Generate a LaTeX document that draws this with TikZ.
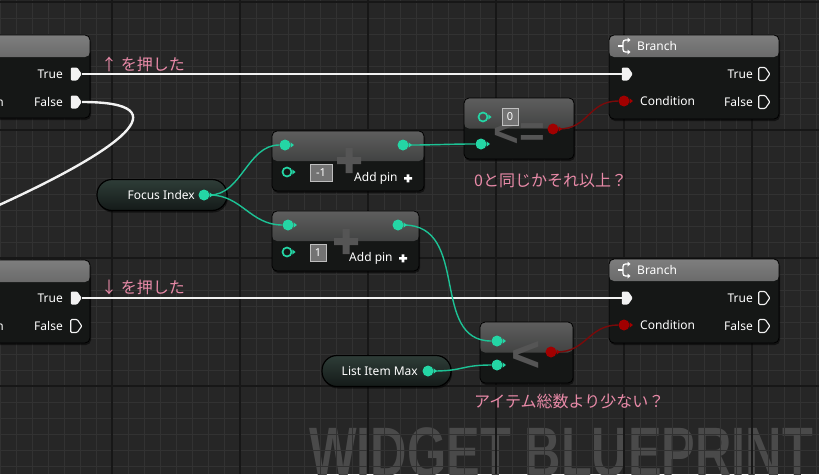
\documentclass[tikz,border=0pt]{standalone}
\usepackage{fontspec}
\setmainfont{Noto Sans}
\newfontfamily\jpfont{Noto Sans CJK JP}
\newfontfamily\wmfont{Liberation Sans}
\usepackage{tikz}
\usetikzlibrary{shapes.symbols, shadows, calc}
\definecolor{gridBg}{HTML}{262626}
\definecolor{gridMinor}{HTML}{323232}
\definecolor{gridMajor}{HTML}{171717}
\definecolor{nodeBody}{HTML}{151716}
\definecolor{pureTop}{HTML}{5E5E5E}
\definecolor{pureMid}{HTML}{252726}
\definecolor{flowTop}{HTML}{7E7E7E}
\definecolor{flowBot}{HTML}{333434}
\definecolor{pinTeal}{HTML}{24D6A5}
\definecolor{wireTeal}{HTML}{1DC295}
\definecolor{pinRed}{HTML}{A10000}
\definecolor{wireRed}{HTML}{7A0A0A}
\definecolor{execWhite}{HTML}{F2F2F2}
\definecolor{noteText}{HTML}{E98AA8}
\definecolor{symGray}{HTML}{555555}
\definecolor{markGray}{HTML}{4A4A4A}
\definecolor{pillTop}{HTML}{2E3D38}
\definecolor{pillMid}{HTML}{3F8A72}
\definecolor{pillBot}{HTML}{141A18}

\begin{document}
\begin{tikzpicture}[
  x=1pt, y=-1pt,
  every node/.style={font=\fontsize{12}{14}\selectfont, text=white, inner sep=0pt},
  bpnode/.style={
    rectangle, rounded corners=5pt, fill=nodeBody, draw=black, line width=0.8pt,
    drop shadow={shadow xshift=1pt, shadow yshift=-2pt, opacity=0.5, fill=black}
  },
  purehead/.style={path picture={\shade[top color=pureTop, bottom color=pureMid]
    (path picture bounding box.north west) rectangle (path picture bounding box.east);}},
  flowhead/.style={path picture={\shade[top color=flowTop, bottom color=flowBot]
    (path picture bounding box.north west) rectangle ([yshift=-22pt]path picture bounding box.north east);}},
  varpill/.style={
    rectangle, rounded corners=15pt, minimum height=31pt, draw=black, line width=1.2pt,
    top color=pillTop, middle color=pillMid, bottom color=pillBot,
    drop shadow={shadow xshift=1pt, shadow yshift=-2pt, opacity=0.5, fill=black}
  },
  execpin/.style={signal, signal to=east, signal pointer angle=110, fill=execWhite,
    minimum width=11pt, minimum height=13pt, inner sep=0pt, rounded corners=1pt},
  execopen/.style={execpin, fill=none, draw=execWhite, line width=1.1pt},
  datapin/.style={circle, fill=pinTeal, minimum size=11pt},
  dataopen/.style={circle, draw=pinTeal, line width=1.7pt, minimum size=9pt},
  boolpin/.style={circle, fill=pinRed, minimum size=11pt},
  execwire/.style={draw=execWhite, line width=2.4pt},
  datawire/.style={draw=wireTeal, line width=1.4pt},
  boolwire/.style={draw=wireRed, line width=1.4pt},
  valbox/.style={draw=white!75!black, line width=0.7pt, fill=black!55,
    minimum height=17pt, minimum width=16pt, font=\fontsize{11}{12}\selectfont},
  opsym/.style={text=symGray, font=\wmfont\bfseries\fontsize{44}{44}\selectfont},
  note/.style={anchor=west, text=noteText, font=\jpfont\fontsize{16}{18}\selectfont}
]
\useasboundingbox (0,0) rectangle (819,474);
\clip (0,0) rectangle (819,474);

% background and watermark
\fill[gridBg] (0,0) rectangle (819,474);
\node[anchor=base west, text=markGray] (mark) at (309,476)
  {\scalebox{0.72}[1]{\wmfont\bfseries\fontsize{70}{70}\selectfont WIDGET BLUEPRINT}};

% grid
\foreach \x in {0,16,...,816} \draw[gridMinor, line width=1pt] (\x,0) -- (\x,474);
\foreach \y in {2,18,...,474} \draw[gridMinor, line width=1pt] (0,\y) -- (819,\y);
\foreach \x in {112,240,...,752} \draw[gridMajor, line width=1.3pt] (\x,0) -- (\x,474);
\foreach \y in {2,130,...,386} \draw[gridMajor, line width=1.3pt] (0,\y) -- (819,\y);

% node bodies
\node[bpnode, flowhead, minimum width=120pt, minimum height=83pt] (keyUp) at (30,76.5) {};
\node[bpnode, flowhead, minimum width=120pt, minimum height=83pt] (keyDown) at (30,301.5) {};
\node[bpnode, flowhead, minimum width=170pt, minimum height=84pt] (branchA) at (694,77) {};
\node[bpnode, flowhead, minimum width=170pt, minimum height=84pt] (branchB) at (694,301) {};
\node[bpnode, purehead, minimum width=152pt, minimum height=60pt] (addA) at (348,161) {};
\node[bpnode, purehead, minimum width=147pt, minimum height=60pt] (addB) at (345.5,241) {};
\node[bpnode, purehead, minimum width=110pt, minimum height=61pt] (lessEq) at (519,128.5) {};
\node[bpnode, purehead, minimum width=93pt, minimum height=61pt] (less) at (526.5,352.5) {};
\node[varpill, minimum width=130pt] (focusVar) at (162,195) {};
\node[varpill, minimum width=129pt] (maxVar) at (386.5,371) {};

% faded operator marks
\fill[symGray] (337,157) rectangle (361,164) (345.5,148) rectangle (352.5,173);
\fill[symGray] (334,238) rectangle (358,245) (342.5,229) rectangle (349.5,254);
\node[opsym] (lessEqSym) at (519,133) {<=};
\node[opsym, font=\wmfont\bfseries\fontsize{50}{50}\selectfont] (lessSym) at (526,356) {<};

% left event nodes
\node[anchor=east] (upCond) at (4,102) {Condition};
\node[anchor=east] (upTrueTxt) at (63,74) {True};
\node[anchor=east] (upFalseTxt) at (63,102) {False};
\node[execpin] (upTrue) at (74,74) {};
\node[execpin] (upFalse) at (74,102) {};
\node[anchor=east] (downCond) at (4,326) {Condition};
\node[anchor=east] (downTrueTxt) at (63,298) {True};
\node[anchor=east] (downFalseTxt) at (63,326) {False};
\node[execpin] (downTrue) at (74,298) {};
\node[execopen] (downFalse) at (74,326) {};

% branch nodes
\foreach \b/\y in {branchA/0, branchB/224} {
  \draw[white, line width=1.3pt, rounded corners=2.5pt]
    (629,40+\y) -- (623,40+\y) -- (623,52+\y) -- (629,52+\y);
  \draw[white, line width=1.3pt] (618,46+\y) -- (623,46+\y);
  \fill[white] (630.5,40+\y) -- (627.5,37.5+\y) -- (627.5,42.5+\y) -- cycle;
  \fill[white] (630.5,52+\y) -- (627.5,49.5+\y) -- (627.5,54.5+\y) -- cycle;
}
\node[anchor=west, font=\bfseries\fontsize{12}{14}\selectfont] (branchATitle) at (637,46) {Branch};
\node[anchor=west, font=\bfseries\fontsize{12}{14}\selectfont] (branchBTitle) at (637,270) {Branch};
\node[execpin] (aExec) at (625,74) {};
\node[boolpin] (aCond) at (624,101) {};
\node[anchor=west] (aCondTxt) at (640,101) {Condition};
\node[anchor=east] (aTrueTxt) at (753,74) {True};
\node[anchor=east] (aFalseTxt) at (753,102) {False};
\node[execopen] (aTrue) at (762,74) {};
\node[execopen] (aFalse) at (762,102) {};
\node[execpin] (bExec) at (625,298) {};
\node[boolpin] (bCond) at (624,325) {};
\node[anchor=west] (bCondTxt) at (640,325) {Condition};
\node[anchor=east] (bTrueTxt) at (753,298) {True};
\node[anchor=east] (bFalseTxt) at (753,326) {False};
\node[execopen] (bTrue) at (762,298) {};
\node[execopen] (bFalse) at (762,326) {};

% variables
\node[anchor=east] (focusTxt) at (195,195) {Focus Index};
\node[datapin] (focusOut) at (204,195) {};
\node[anchor=east] (maxTxt) at (418,371) {List Item Max};
\node[datapin] (maxOut) at (428,371) {};

% add nodes
\node[datapin] (addAIn) at (285,145) {};
\node[dataopen] (addAIn2) at (287,172) {};
\node[valbox, minimum width=22pt] (addAVal) at (321,172.5) {-1};
\node[datapin] (addAOut) at (403,145) {};
\node[anchor=west] (addAPin) at (354,178) {Add pin};
\fill[white] (404,177) rectangle (412,179.6) (406.7,174.3) rectangle (409.3,182.3);
\node[datapin] (addBIn) at (288,225) {};
\node[dataopen] (addBIn2) at (287,252) {};
\node[valbox] (addBVal) at (318,253) {1};
\node[datapin] (addBOut) at (398,225) {};
\node[anchor=west] (addBPin) at (349,258) {Add pin};
\fill[white] (399,257) rectangle (407,259.6) (401.7,254.3) rectangle (404.3,262.3);

% compare nodes
\node[dataopen] (lessEqIn) at (483,117) {};
\node[valbox] (lessEqVal) at (510,117) {0};
\node[datapin] (lessEqIn2) at (481,144) {};
\node[boolpin] (lessEqOut) at (553,129) {};
\node[datapin] (lessIn) at (497,341) {};
\node[datapin] (lessIn2) at (497,365) {};
\node[boolpin] (lessOut) at (551,352) {};

% wires
\coordinate (offLeft) at (-3,206);
\draw[execwire] (upTrue.east) -- (aExec.west);
\draw[execwire] (downTrue.east) -- (bExec.west);
\draw[execwire] (upFalse.east) .. controls (185,102) and (120,150) .. (offLeft);
\draw[datawire] (focusOut.east) .. controls +(32,0) and +(-32,0) .. (addAIn.west);
\draw[datawire] (focusOut.east) .. controls +(32,0) and +(-32,0) .. (addBIn.west);
\draw[datawire] (addAOut.east) .. controls +(30,0) and +(-30,0) .. (lessEqIn2.west);
\draw[datawire] (addBOut.east) .. controls +(67,0) and +(-62,0) .. (lessIn.west);
\draw[datawire] (maxOut.east) .. controls +(30,0) and +(-30,0) .. (lessIn2.west);
\draw[boolwire] (lessEqOut.east) .. controls +(30,0) and +(-30,0) .. (aCond.west);
\draw[boolwire] (lessOut.east) .. controls +(30,0) and +(-30,0) .. (bCond.west);

% pin tips
\foreach \p/\c in {focusOut/pinTeal, maxOut/pinTeal, addAIn/pinTeal, addAIn2/pinTeal,
    addAOut/pinTeal, addBIn/pinTeal, addBIn2/pinTeal, addBOut/pinTeal, lessEqIn/pinTeal,
    lessEqIn2/pinTeal, lessIn/pinTeal, lessIn2/pinTeal, lessEqOut/pinRed, lessOut/pinRed,
    aCond/pinRed, bCond/pinRed}
  \fill[\c] ($(\p.east)+(0,2.6pt)$) -- ($(\p.east)+(3.2pt,0)$) -- ($(\p.east)+(0,-2.6pt)$) -- cycle;

% notes
\node[note] (upNote) at (101,64) {↑ を押した};
\node[note] (downNote) at (101,287) {↓ を押した};
\node[note] (lessEqNote) at (474,181) {0と同じかそれ以上？};
\node[note] (lessNote) at (474,401) {アイテム総数より少ない？};
\end{tikzpicture}
\end{document}
